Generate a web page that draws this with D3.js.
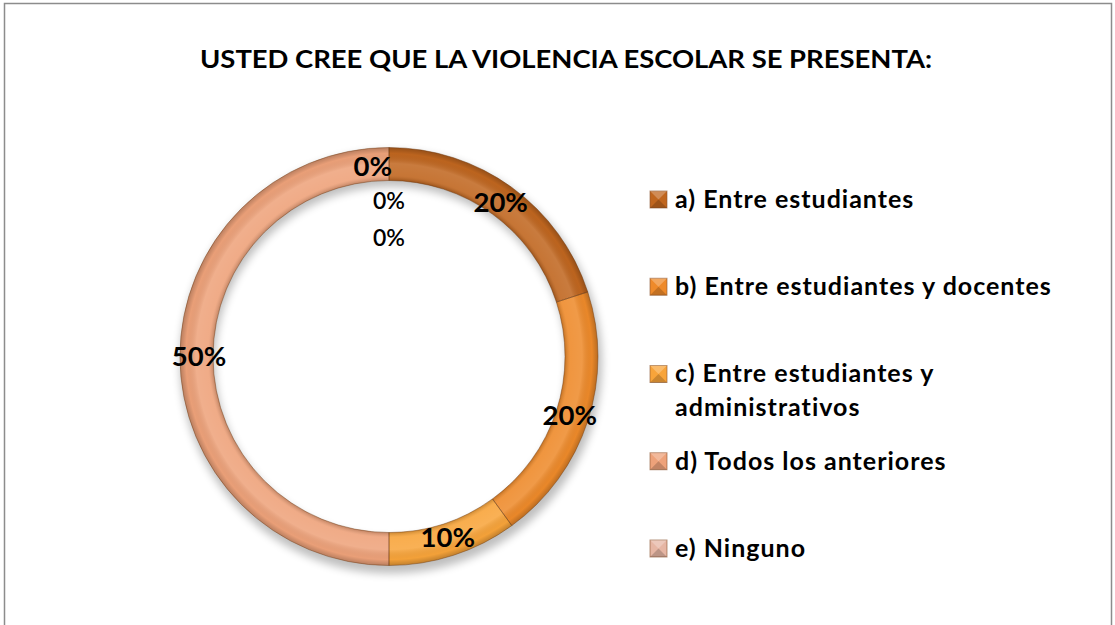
<!DOCTYPE html>
<html>
<head>
<meta charset="utf-8">
<script src="https://cdn.jsdelivr.net/npm/d3@7"></script>
<style>
  html, body { margin: 0; padding: 0; background: #fff; }
  svg { display: block; }
</style>
</head>
<body>
<svg id="chart"></svg>
<script>
const title = "USTED CREE QUE LA VIOLENCIA ESCOLAR SE PRESENTA:"
const categories = [
  "a) Entre estudiantes",
  "b) Entre estudiantes y docentes",
  "c) Entre estudiantes y administrativos",
  "d) Todos los anteriores",
  "e) Ninguno"
]
const values = [0.20, 0.20, 0.10, 0.50, 0.00]
const colors = ["#c0661f", "#ee8a2a", "#f8a43a", "#eea27a", "#e6b6a4"]
// empty inner rings still show their zero labels
const innerRingLabels = ["0%", "0%"]

const width = 1115, height = 625
const svg = d3.select("#chart").attr("width", width).attr("height", height)

// frame
svg.append("rect")
  .attr("x", 4.5).attr("y", 3.5)
  .attr("width", 1107).attr("height", 640)
  .attr("fill", "#fff").attr("stroke", "#8c8c8c").attr("stroke-width", 1.5)

svg.append("text")
  .attr("x", 566).attr("y", 68)
  .attr("text-anchor", "middle")
  .attr("font-family", "Lato, 'Open Sans', sans-serif")
  .attr("font-weight", "bold")
  .attr("font-size", 25)
  .attr("textLength", 732)
  .attr("lengthAdjust", "spacingAndGlyphs")
  .text(title)

const cx = 389, cy = 356.5
const rOuter = 209, rInner = 176

const defs = svg.append("defs")
const shadow = defs.append("filter").attr("id", "shadow")
  .attr("x", "-20%").attr("y", "-20%").attr("width", "140%").attr("height", "140%")
shadow.append("feGaussianBlur").attr("stdDeviation", 4)

// bevel shading across the ring width (coords are inside the centred group)
const bevel = defs.append("radialGradient").attr("id", "bevel")
  .attr("gradientUnits", "userSpaceOnUse")
  .attr("cx", 0).attr("cy", 0).attr("r", rOuter)
  .attr("fx", 0).attr("fy", 0)
;[[rInner / rOuter, "#000", 0.18],
  [(rInner + 5) / rOuter, "#fff", 0.10],
  [(rInner + 17) / rOuter, "#fff", 0.14],
  [(rOuter - 6) / rOuter, "#000", 0.02],
  [1, "#000", 0.22]].forEach(([o, c, a]) => {
  bevel.append("stop").attr("offset", o).attr("stop-color", c).attr("stop-opacity", a)
})

const pie = d3.pie().sort(null).value(d => d)
const arcs = pie(values)
const arc = d3.arc().innerRadius(rInner).outerRadius(rOuter)
const labelArc = d3.arc().innerRadius(190).outerRadius(190)

const g = svg.append("g").attr("transform", `translate(${cx},${cy})`)

// soft shadow under the ring
g.append("path")
  .attr("d", d3.arc().innerRadius(rInner).outerRadius(rOuter + 2).startAngle(0).endAngle(2 * Math.PI)())
  .attr("transform", "translate(2,6)")
  .attr("fill", "#000").attr("opacity", 0.25)
  .attr("filter", "url(#shadow)")

g.selectAll("path.slice")
  .data(arcs.filter(d => d.value > 0))
  .join("path")
  .attr("class", "slice")
  .attr("d", arc)
  .attr("fill", d => colors[d.index])

g.selectAll("path.bevel")
  .data(arcs.filter(d => d.value > 0))
  .join("path")
  .attr("class", "bevel")
  .attr("d", arc)
  .attr("fill", "url(#bevel)")
  .attr("stroke", "#6b3a12")
  .attr("stroke-opacity", 0.55)
  .attr("stroke-width", 0.8)

// percentage labels
g.selectAll("text.pct")
  .data(arcs)
  .join("text")
  .attr("class", "pct")
  .attr("transform", d => {
    const [x, y] = labelArc.centroid(d)
    return `translate(${d.value === 0 ? x + 3 : x},${y})`
  })
  .attr("text-anchor", d => d.value === 0 ? "end" : "middle")
  .attr("dy", "0.35em")
  .attr("font-family", "Lato, 'Open Sans', sans-serif")
  .attr("font-weight", "bold")
  .attr("font-size", 27.5)
  .text(d => d3.format(".0%")(d.value))

const innerScale = d3.scalePoint().domain(d3.range(innerRingLabels.length)).range([156, 119])
g.selectAll("text.inner")
  .data(innerRingLabels)
  .join("text")
  .attr("class", "inner")
  .attr("x", 0)
  .attr("y", (d, i) => -innerScale(i))
  .attr("dy", "0.35em")
  .attr("text-anchor", "middle")
  .attr("font-family", "Lato, 'Open Sans', sans-serif")
  .attr("font-weight", 600)
  .attr("font-size", 23)
  .text(d => d)

// legend
const legendRows = [[categories[0]], [categories[1]],
  ["c) Entre estudiantes y", "administrativos"], [categories[3]], [categories[4]]]
const legendY = d3.scalePoint().domain(d3.range(categories.length)).range([199, 548])

const lg = svg.append("g")
const items = lg.selectAll("g.item")
  .data(legendRows)
  .join("g")
  .attr("class", "item")
  .attr("transform", (d, i) => `translate(650,${legendY(i)})`)

items.append("rect")
  .attr("x", 0).attr("y", -8)
  .attr("width", 17).attr("height", 17)
  .attr("fill", (d, i) => colors[i])
  .attr("stroke", "#8a5530").attr("stroke-opacity", 0.6)
items.append("path")
  .attr("d", "M0,-8 L8.5,0.5 L17,-8 Z")
  .attr("fill", "#fff").attr("opacity", 0.25)
items.append("path")
  .attr("d", "M0,9 L8.5,0.5 L17,9 Z")
  .attr("fill", "#000").attr("opacity", 0.18)

items.selectAll("text")
  .data(d => d)
  .join("text")
  .attr("x", 25)
  .attr("y", (d, j) => j * 34)
  .attr("dy", "0.35em")
  .attr("font-family", "Lato, 'Open Sans', sans-serif")
  .attr("font-weight", "bold")
  .attr("font-size", 25)
  .attr("letter-spacing", 1)
  .text(d => d)
</script>
</body>
</html>
